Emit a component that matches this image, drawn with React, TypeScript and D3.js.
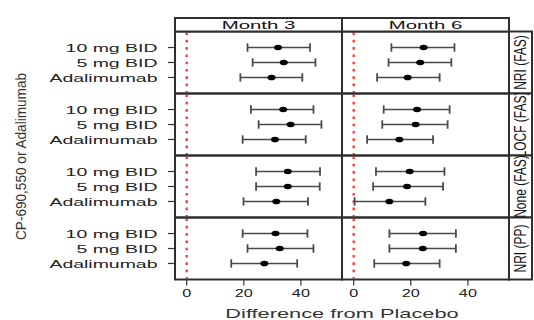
import React from "react";
import * as d3 from "d3";

// Facets and categories
const months = ["Month 3", "Month 6"];
const methods = ["NRI (FAS)", "LOCF (FAS)", "None (FAS)", "NRI (PP)"];
const treatments = ["10 mg BID", "5 mg BID", "Adalimumab"];
const xTicks = [0, 20, 40];

// Difference from placebo, rows = methods, columns = treatments
const month3Est = [
  [32.0, 34.0, 29.7],
  [33.8, 36.4, 30.9],
  [35.4, 35.4, 31.4],
  [31.1, 32.6, 27.2],
];
const month3Lower = [
  [21.3, 23.1, 18.8],
  [22.5, 25.2, 19.6],
  [24.3, 24.3, 19.9],
  [19.6, 21.3, 15.6],
];
const month3Upper = [
  [43.2, 45.1, 40.5],
  [44.4, 47.2, 41.7],
  [46.7, 46.6, 42.5],
  [42.3, 44.4, 38.7],
];
const month6Est = [
  [24.5, 23.3, 18.9],
  [22.2, 21.7, 16.0],
  [19.6, 18.7, 12.5],
  [24.3, 24.2, 18.4],
];
const month6Lower = [
  [13.2, 12.2, 8.2],
  [10.5, 10.0, 4.7],
  [7.8, 6.8, 0.3],
  [12.5, 12.5, 7.2],
];
const month6Upper = [
  [35.3, 34.2, 30.1],
  [33.6, 32.9, 27.8],
  [31.8, 31.3, 25.1],
  [35.8, 35.8, 30.1],
];

const estByMonth = [month3Est, month6Est];
const lowerByMonth = [month3Lower, month6Lower];
const upperByMonth = [month3Upper, month6Upper];

const FONT = "'Liberation Sans', Arial, Helvetica, sans-serif";

function HText(props: {
  x: number;
  y: number;
  sx: number;
  size: number;
  anchor: "start" | "middle" | "end";
  fill?: string;
  children: React.ReactNode;
}) {
  const { x, y, sx, size, anchor, fill = "#1a1a1a", children } = props;
  return (
    <text
      transform={`translate(${x},${y}) scale(${sx},1)`}
      fontSize={size}
      textAnchor={anchor}
      fill={fill}
      fontFamily={FONT}
    >
      {children}
    </text>
  );
}

export default function App() {
  const width = 534;
  const height = 320;
  const left = 175;
  const panelW = 167;
  const top = 31.5;
  const rowH = 62;
  const stripTop = 18;
  const stripRight = left + panelW * months.length;
  const stripW = 23;
  const bottom = top + rowH * methods.length;

  const xScales = months.map((_, j) =>
    d3
      .scaleLinear()
      .domain([-4.1, 54.4])
      .range([left + j * panelW, left + (j + 1) * panelW])
  );
  const yIn = d3
    .scalePoint<string>()
    .domain(treatments)
    .range([0, rowH])
    .padding(1.07);

  const border = "#2e2e2e";
  const barColor = "#4a4a4a";

  return (
    <svg
      width={width}
      height={height}
      style={{ position: "absolute", left: 0, top: 0, background: "#fff" }}
    >
      <defs>
        {methods.map((_, i) => (
          <clipPath id={`strip-clip-${i}`} key={i}>
            <rect x={stripRight} y={top + i * rowH} width={stripW} height={rowH} />
          </clipPath>
        ))}
      </defs>

      {/* panel contents */}
      {methods.map((_, i) =>
        months.map((_, j) => {
          const xs = xScales[j];
          const y0 = top + i * rowH;
          return (
            <g key={`p-${i}-${j}`}>
              <line
                x1={xs(0)}
                x2={xs(0)}
                y1={y0 + 1}
                y2={y0 + rowH - 1}
                stroke="#ff3b3b"
                strokeWidth={2.4}
                strokeDasharray="2.6 4.7"
              />
              {treatments.map((t, k) => {
                const yy = y0 + (yIn(t) as number);
                const lo = xs(lowerByMonth[j][i][k]);
                const hi = xs(upperByMonth[j][i][k]);
                const est = xs(estByMonth[j][i][k]);
                return (
                  <g key={t}>
                    <line x1={lo} x2={hi} y1={yy} y2={yy} stroke={barColor} strokeWidth={1.3} />
                    <line x1={lo} x2={lo} y1={yy - 4.2} y2={yy + 4.2} stroke={barColor} strokeWidth={1.8} />
                    <line x1={hi} x2={hi} y1={yy - 4.2} y2={yy + 4.2} stroke={barColor} strokeWidth={1.8} />
                    <ellipse cx={est} cy={yy} rx={4.0} ry={2.8} fill="#000" />
                  </g>
                );
              })}
              <rect
                x={xs.range()[0]}
                y={y0}
                width={panelW}
                height={rowH}
                fill="none"
                stroke={border}
                strokeWidth={2}
              />
            </g>
          );
        })
      )}

      {/* top strips */}
      {months.map((m, j) => {
        const [a, b] = xScales[j].range();
        return (
          <g key={m}>
            <rect x={a} y={stripTop} width={b - a} height={top - stripTop} fill="#fff" stroke={border} strokeWidth={2} />
            <HText x={(a + b) / 2} y={29} sx={2.0} size={10.2} anchor="middle" fill="#111">
              {m}
            </HText>
          </g>
        );
      })}

      {/* right strips */}
      {methods.map((m, i) => {
        const y0 = top + i * rowH;
        const cx = stripRight + stripW / 2;
        return (
          <g key={m}>
            <rect x={stripRight} y={y0} width={stripW} height={rowH} fill="#fff" stroke={border} strokeWidth={2} />
            <g clipPath={`url(#strip-clip-${i})`}>
              <text
                transform={`translate(${cx + 5.8},${y0 + rowH / 2}) scale(1.35,1) rotate(-90)`}
                fontSize={12}
                textAnchor="middle"
                fill="#111"
                fontFamily={FONT}
              >
                {m}
              </text>
            </g>
          </g>
        );
      })}

      {/* y axis ticks and labels */}
      {methods.map((m, i) =>
        treatments.map((t) => {
          const yy = top + i * rowH + (yIn(t) as number);
          return (
            <g key={`${m}-${t}`}>
              <line x1={left - 7} x2={left} y1={yy} y2={yy} stroke="#333" strokeWidth={1.2} />
              <HText x={157.5} y={yy + 4.2} sx={1.65} size={11.8} anchor="end" fill="#222">
                {t}
              </HText>
            </g>
          );
        })
      )}

      {/* x axis ticks and labels */}
      {months.map((m, j) =>
        xTicks.map((v) => {
          const xx = xScales[j](v);
          return (
            <g key={`${m}-${v}`}>
              <line x1={xx} x2={xx} y1={bottom} y2={bottom + 6} stroke="#333" strokeWidth={1.2} />
              <HText x={xx} y={297.3} sx={1.45} size={11.2} anchor="middle" fill="#222">
                {v}
              </HText>
            </g>
          );
        })
      )}

      {/* axis titles */}
      <HText x={(left + stripRight) / 2} y={318.3} sx={1.73} size={12.6} anchor="middle" fill="#333">
        Difference from Placebo
      </HText>
      <text
        transform={`translate(26,156.5) scale(1.05,1) rotate(-90)`}
        fontSize={13.6}
        textAnchor="middle"
        fill="#333"
        fontFamily={FONT}
      >
        CP-690,550 or Adalimumab
      </text>
    </svg>
  );
}
